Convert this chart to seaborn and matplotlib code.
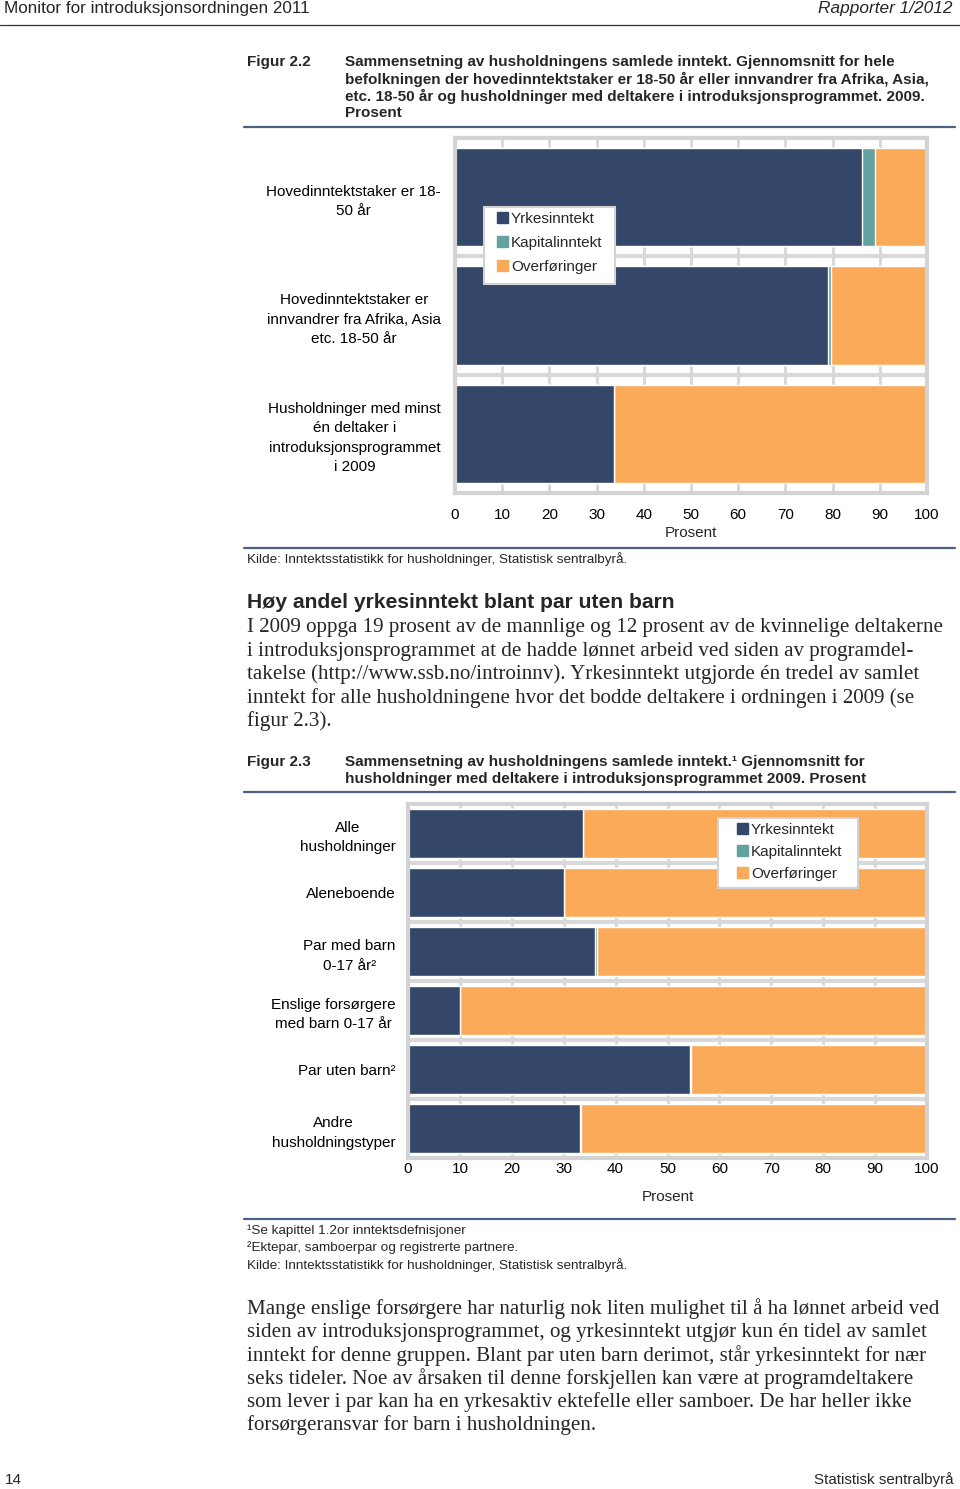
import numpy as np
import seaborn as sns
import matplotlib.pyplot as plt
from matplotlib.patches import Patch, Rectangle
from matplotlib.lines import Line2D

# figur 2.2
cats1 = ["Hovedinntektstaker er 18-\n50 år",
         "Hovedinntektstaker er\ninnvandrer fra Afrika, Asia\netc. 18-50 år",
         "Husholdninger med minst\nén deltaker i\nintroduksjonsprogrammet\ni 2009"]
yrk1 = np.array([86.3, 79.1, 33.6])
kap1 = np.array([2.7, 0.6, 0.1])
ovf1 = np.array([11.0, 20.3, 66.3])

# figur 2.3
cats2 = ["Alle\nhusholdninger", "Aleneboende", "Par med barn\n0-17 år²",
         "Enslige forsørgere\nmed barn 0-17 år", "Par uten barn²",
         "Andre\nhusholdningstyper"]
yrk2 = np.array([33.7, 30.0, 36.1, 10.0, 54.3, 33.2])
kap2 = np.array([0.1, 0.1, 0.3, 0.1, 0.3, 0.1])
ovf2 = np.array([66.2, 69.9, 63.6, 89.9, 45.4, 66.7])

series = ["Yrkesinntekt", "Kapitalinntekt", "Overføringer"]
xticks = [0, 10, 20, 30, 40, 50, 60, 70, 80, 90, 100]

NAVY, TEAL, ORANGE = "#354769", "#64a2a0", "#fbaa59"
RULE = "#4d6185"
GRID = "#d9d9d9"
SERIF = ["Liberation Serif", "DejaVu Serif"]

sns.set_theme(style="white")
plt.rcParams["font.family"] = ["Liberation Sans", "DejaVu Sans"]

W, H = 960, 1489
fig = plt.figure(figsize=(W / 100, H / 100), dpi=100)


def px(x, y):
    return x / W, 1 - y / H


def txt(x, y, s, **kw):
    kw.setdefault("va", "center")
    fig.text(*px(x, y), s, **kw)


def rule(y, x0=244, x1=955, color=RULE, lw=1.6):
    fig.add_artist(Line2D([x0 / W, x1 / W], [1 - y / H, 1 - y / H],
                          color=color, lw=lw, transform=fig.transFigure))


def legend_box(x0, y0, x1, y1, mx, row1, spacing):
    fig.add_artist(Rectangle(px(x0, y1), (x1 - x0) / W, (y1 - y0) / H,
                             transform=fig.transFigure, facecolor="white",
                             edgecolor="#d3d3d3", lw=1.5, zorder=4))
    handles = [Patch(color=c, label=l) for c, l in zip([NAVY, TEAL, ORANGE], series)]
    fig.legend(handles=handles, loc="upper left", bbox_to_anchor=px(mx, row1 - 7),
               fontsize=11, frameon=False, handlelength=0.72, handleheight=0.72,
               handletextpad=0.2, labelspacing=spacing, borderpad=0,
               borderaxespad=0).set_zorder(5)


def stacked(ax, cats, yrk, kap, ovf, width):
    sns.barplot(x=yrk + kap + ovf, y=cats, orient="h", color=ORANGE,
                width=width, saturation=1, ax=ax)
    sns.barplot(x=yrk + kap, y=cats, orient="h", color=TEAL,
                width=width, saturation=1, ax=ax)
    sns.barplot(x=yrk, y=cats, orient="h", color=NAVY,
                width=width, saturation=1, ax=ax)
    n = len(cats)
    ax.set_xlim(0, 100)
    ax.set_ylim(n - 0.5, -0.5)
    ax.set_xticks(xticks)
    ax.set_yticks(np.arange(n - 1) + 0.5, minor=True)
    ax.set_axisbelow(True)
    ax.grid(axis="x", which="major", color=GRID, lw=2.2)
    ax.grid(axis="y", which="minor", color=GRID, lw=3)
    ax.grid(axis="y", which="major", visible=False)
    for sp in ax.spines.values():
        sp.set_color("#d3d3d3")
        sp.set_linewidth(3)
    ax.tick_params(which="both", length=0)
    ax.tick_params(axis="both", labelsize=11, colors="black")
    for t in ax.get_yticklabels():
        t.set_multialignment("center")
        t.set_linespacing(1.5)
    ax.set_ylabel("")


# header
txt(4, 9, "Monitor for introduksjonsordningen 2011", fontsize=12.3, ha="left")
txt(953, 9, "Rapporter 1/2012", fontsize=12.4, ha="right", style="italic")
rule(25, 0, 960, color="#333333", lw=0.9)

# figure 2.2 title
txt(247, 62, "Figur 2.2", fontsize=11, weight="bold", ha="left")
title1 = ["Sammensetning av husholdningens samlede inntekt. Gjennomsnitt for hele",
          "befolkningen der hovedinntektstaker er 18-50 år eller innvandrer fra Afrika, Asia,",
          "etc. 18-50 år og husholdninger med deltakere i introduksjonsprogrammet. 2009.",
          "Prosent"]
for i, line in enumerate(title1):
    txt(345, 62 + i * 17, line, fontsize=11, weight="bold", ha="left")
rule(127)

ax1 = fig.add_axes([455 / W, 1 - 493 / H, (927 - 455) / W, (493 - 138) / H])
stacked(ax1, cats1, yrk1, kap1, ovf1, 0.83)
ax1.tick_params(axis="x", pad=11)
ax1.tick_params(axis="y", pad=10)
ax1.set_xlabel("Prosent", fontsize=11, labelpad=3)
legend_box(484, 207, 615, 284, 497, 219, 0.65)

rule(548)
txt(247, 559, "Kilde: Inntektsstatistikk for husholdninger, Statistisk sentralbyrå.",
    fontsize=9.7, ha="left")

# body text 1
txt(247, 602, "Høy andel yrkesinntekt blant par uten barn", fontsize=15.2,
    weight="bold", ha="left")
body1 = ["I 2009 oppga 19 prosent av de mannlige og 12 prosent av de kvinnelige deltakerne",
         "i introduksjonsprogrammet at de hadde lønnet arbeid ved siden av programdel-",
         "takelse (http://www.ssb.no/introinnv). Yrkesinntekt utgjorde én tredel av samlet",
         "inntekt for alle husholdningene hvor det bodde deltakere i ordningen i 2009 (se",
         "figur 2.3)."]
for i, line in enumerate(body1):
    txt(247, 628 + i * 23.2, line, fontsize=15.1, ha="left", family=SERIF)

# figure 2.3 title
txt(247, 762, "Figur 2.3", fontsize=11, weight="bold", ha="left")
title2 = ["Sammensetning av husholdningens samlede inntekt.¹ Gjennomsnitt for",
          "husholdninger med deltakere i introduksjonsprogrammet 2009. Prosent"]
for i, line in enumerate(title2):
    txt(345, 762 + i * 17, line, fontsize=11, weight="bold", ha="left")
rule(792)

ax2 = fig.add_axes([408 / W, 1 - 1158 / H, (927 - 408) / W, (1158 - 804) / H])
stacked(ax2, cats2, yrk2, kap2, ovf2, 0.84)
ax2.tick_params(axis="x", pad=3)
ax2.tick_params(axis="y", pad=9)
ax2.set_xlabel("Prosent", fontsize=11, labelpad=10)
legend_box(718, 818, 858, 888, 737, 830, 0.52)

rule(1219)
txt(247, 1231, "¹Se kapittel 1.2or inntektsdefnisjoner", fontsize=9.7, ha="left")
txt(247, 1248, "²Ektepar, samboerpar og registrerte partnere.", fontsize=9.7, ha="left")
txt(247, 1265, "Kilde: Inntektsstatistikk for husholdninger, Statistisk sentralbyrå.",
    fontsize=9.7, ha="left")

body2 = ["Mange enslige forsørgere har naturlig nok liten mulighet til å ha lønnet arbeid ved",
         "siden av introduksjonsprogrammet, og yrkesinntekt utgjør kun én tidel av samlet",
         "inntekt for denne gruppen. Blant par uten barn derimot, står yrkesinntekt for nær",
         "seks tideler. Noe av årsaken til denne forskjellen kan være at programdeltakere",
         "som lever i par kan ha en yrkesaktiv ektefelle eller samboer. De har heller ikke",
         "forsørgeransvar for barn i husholdningen."]
for i, line in enumerate(body2):
    txt(247, 1309 + i * 23.2, line, fontsize=15.1, ha="left", family=SERIF)

# footer
txt(5, 1480, "14", fontsize=11, ha="left")
txt(953, 1480, "Statistisk sentralbyrå", fontsize=10.9, ha="right")

fig.savefig("out.png", dpi=100)
